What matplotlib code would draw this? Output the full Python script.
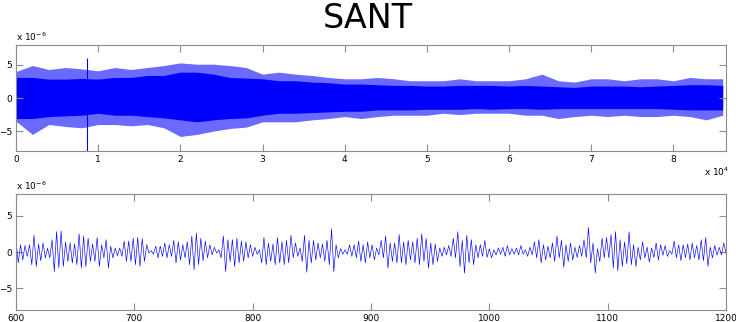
import matplotlib.pyplot as plt
import numpy as np

# Top panel: whole day of samples, read off the picture as an envelope
# (units of 1e-6, one reading every 2000 samples)
env_t = np.arange(0, 88000, 2000)
core_hi = [3.1, 3.1, 2.85, 2.85, 2.95, 2.85, 3.1, 3.1, 3.4, 3.4, 3.9, 3.9, 3.6, 3.1, 3.0,
           2.9, 2.6, 2.6, 2.4, 2.3, 2.1, 2.1, 2.0, 1.9, 1.9, 1.8, 1.8, 1.9, 1.9, 1.9,
           1.8, 1.9, 1.8, 1.7, 1.6, 1.8, 1.8, 1.8, 1.7, 1.8, 1.9, 2.0, 2.0, 1.9]
core_lo = [-3.1, -3.1, -2.8, -2.7, -2.6, -2.3, -2.6, -2.6, -2.8, -3.0, -3.3, -3.6, -3.3, -3.1, -3.0,
           -2.6, -2.3, -2.3, -2.2, -2.1, -2.0, -2.0, -1.8, -1.8, -1.8, -1.7, -1.7, -1.7, -1.6, -1.7,
           -1.6, -1.6, -1.7, -1.6, -1.6, -1.6, -1.6, -1.6, -1.6, -1.6, -1.7, -1.8, -1.8, -1.8]
spike_hi = [4.0, 4.9, 4.3, 4.6, 4.4, 4.1, 4.6, 4.3, 4.6, 4.9, 5.3, 5.1, 5.1, 4.9, 4.6,
            3.6, 3.9, 3.6, 3.4, 3.1, 2.9, 2.9, 3.1, 2.9, 2.6, 2.6, 2.6, 2.9, 2.6, 2.6,
            2.6, 2.9, 3.6, 2.6, 2.4, 2.9, 2.9, 2.6, 2.9, 2.9, 2.6, 3.1, 2.9, 2.9]
spike_lo = [-3.5, -5.5, -4.0, -4.3, -4.5, -4.0, -4.0, -4.2, -4.0, -4.5, -5.8, -5.5, -5.0, -4.6, -4.4,
            -3.6, -3.6, -3.6, -3.3, -3.1, -2.8, -3.1, -2.8, -2.6, -2.6, -2.6, -2.3, -2.5, -2.3, -2.3,
            -2.3, -2.6, -2.6, -3.1, -2.8, -2.6, -2.8, -2.6, -2.8, -2.8, -2.6, -2.8, -3.3, -2.6]
glitch_t = 8700
glitch_range = (-8.5, 6.0)

# Bottom panel: samples 600-1200, successive peaks and troughs (units of 1e-6)
peaks = [1.6, 1.0, 0.9, 1.0, 2.3, 1.1, 1.25, 0.5, 1.7, 2.8, 2.9, 1.4, 1.25, 1.15, 2.5, 2.2, 1.9,
         1.1, 2.0, 1.0, 1.7, 0.8, 0.55, 0.55, 1.5,
         1.5, 1.9, 2.0, 1.85, 1.0, 0.2, 0.8, 0.8, 1.25, 1.0, 1.6, 1.4, 1.0, 1.4, 2.2, 2.6, 1.9,
         1.5, 1.0, 0.65, 0.3, 2.2, 1.7, 1.7, 1.9, 1.5,
         1.4, 1.0, 0.65, 0.3, 2.0, 1.25, 1.1, 2.0, 1.4, 1.6, 2.3, 1.25, 0.55, 2.3, 1.6, 1.6, 1.25,
         1.1, 1.6, 3.2, 1.0, 0.45, 0.3, 1.0, 1.0, 1.5,
         1.0, 1.4, 1.0, 0.55, 1.6, 2.2, 1.25, 1.25, 2.4, 1.4, 1.6, 1.4, 1.9, 2.5, 1.85, 1.25, 1.1,
         0.55, 0.65, 0.9, 1.9, 2.8, 1.6, 2.3, 1.7, 1.0,
         1.0, 1.6, 0.45, 0.3, 0.55, 0.65, 0.9, 0.45, 0.55, 0.9, 0.3, 0.65, 1.4, 1.7, 1.0, 0.8,
         1.25, 2.2, 1.6, 1.0, 1.25, 0.65, 0.9, 1.7, 3.4, 1.25, 0.45, 1.9,
         2.0, 2.4, 2.8, 1.7, 1.4, 2.8, 1.0, 0.65, 1.4, 0.65, 0.55, 1.25, 1.0, 0.9, 0.2, 1.5,
         1.0, 1.0, 1.1, 1.25, 0.9, 1.7, 2.0, 0.65, 0.9, 0.65, 1.25]
troughs = [-1.5, -1.1, -0.6, -1.75, -2.0, -1.2, -0.8, -0.8, -2.7, -2.2, -2.0, -1.3, -1.5, -1.75,
           -2.2, -2.0, -1.3, -1.3, -2.0, -0.8, -2.2, -0.8, -0.5, -0.6, -1.3,
           -1.3, -1.75, -2.0, -1.3, -0.15, -0.3, -0.8, -0.6, -0.8, -0.6, -1.5, -1.1, -0.8, -1.75,
           -2.45, -1.75, -1.2, -0.8, -0.4, -0.15, -0.8, -2.7, -1.3, -2.0, -1.5, -1.3,
           -0.8, -0.6, -0.3, -1.5, -1.75, -1.3, -1.75, -1.5, -1.75, -1.5, -0.8, -0.6, -1.3, -2.8,
           -1.5, -1.1, -0.8, -1.3, -1.75, -2.7, -0.8, -0.3, -0.3, -0.6, -0.8, -1.3,
           -1.5, -0.8, -1.1, -0.4, -0.8, -2.2, -1.3, -1.5, -1.5, -1.75, -1.1, -1.5, -1.75, -1.3,
           -2.2, -1.75, -1.3, -0.6, -0.4, -0.6, -0.8, -2.0, -2.9, -1.5, -1.75, -0.8,
           -0.6, -0.75, -0.8, -0.4, -0.3, -0.6, -0.4, -0.3, -0.4, -0.3, -0.6, -0.4, -0.8, -1.5,
           -1.1, -0.8, -1.3, -0.8, -2.1, -1.3, -1.1, -0.75, -0.6, -0.8, -1.5, -2.9, -1.3, -0.8,
           -0.8, -2.2, -2.6, -2.0, -1.65, -1.75, -2.0, -1.1, -0.8, -1.4, -0.75, -1.1, -0.45, -0.6,
           -0.3, -0.8, -1.2, -0.8, -1.1, -0.8, -1.1, -1.2, -2.0, -0.8, -0.45, -0.4, -0.15]

zoom_v = np.ravel(np.column_stack([peaks, troughs]))
zoom_t = np.linspace(600, 1200, len(zoom_v))

frame = '#8c8c8c'
blue = '#0000ff'

fig = plt.figure(figsize=(7.36, 3.22), dpi=100)
ax1 = fig.add_axes([16/736, 1 - 151/322, 710/736, 106/322])
ax2 = fig.add_axes([16/736, 1 - 310/322, 710/736, 116/322])

# lighter fringe of isolated spikes around the dense core
ax1.fill_between(env_t, spike_lo, spike_hi, color='#6a6aff', lw=0)
ax1.fill_between(env_t, core_lo, core_hi, color=blue, lw=0)
ax1.vlines(glitch_t, *glitch_range, color=blue, lw=0.8)
ax1.set_xlim(0, 86400)
ax1.set_xticks(np.arange(0, 9) * 1e4)
ax1.set_xticklabels([str(i) for i in range(9)])

ax2.plot(zoom_t, zoom_v, color=blue, lw=0.45)
ax2.set_xlim(600, 1200)
ax2.set_xticks(np.arange(600, 1201, 100))

for ax in (ax1, ax2):
    ax.set_ylim(-8, 8)
    ax.set_yticks([-5, 0, 5])
    ax.tick_params(direction='in', length=5, width=0.8, color=frame, labelsize=6.5,
                   top=True, right=True, pad=3)
    for s in ax.spines.values():
        s.set_color(frame)
        s.set_linewidth(0.8)

fig.text(16/736, 1 - 37/322, r'x 10$^{-6}$', fontsize=6.5, va='center')
fig.text(16/736, 1 - 186/322, r'x 10$^{-6}$', fontsize=6.5, va='center')
fig.text(704/736, 1 - 172/322, r'x 10$^{4}$', fontsize=6.5, va='center')
fig.text(0.5, 1 - 18/322, 'SANT', fontsize=24, ha='center', va='center')

fig.savefig('out.png', dpi=100)
